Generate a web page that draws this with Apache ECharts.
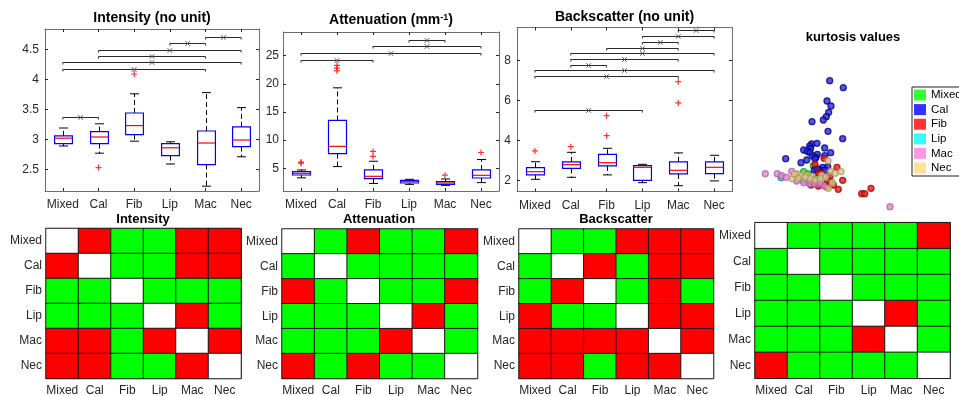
<!DOCTYPE html>
<html>
<head>
<meta charset="utf-8">
<script src="https://cdn.jsdelivr.net/npm/echarts@6.0.0/dist/echarts.min.js"></script>
<style>
  html, body { margin: 0; padding: 0; background: #fff; }
  #chart { width: 959px; height: 396px; }
</style>
</head>
<body>
<div id="chart"></div>
<script>
var cats = ['Mixed', 'Cal', 'Fib', 'Lip', 'Mac', 'Nec'];

// box stats per class: [lower whisker, Q1, median, Q3, upper whisker]
var intensityBox = [
  [2.89, 2.93, 3.02, 3.06, 3.19],
  [2.77, 2.93, 3.04, 3.13, 3.26],
  [2.97, 3.08, 3.23, 3.44, 3.76],
  [2.59, 2.73, 2.86, 2.93, 2.96],
  [2.22, 2.58, 2.94, 3.14, 3.78],
  [2.71, 2.88, 2.99, 3.21, 3.53]
];
var intensityOutliers = [[1, 2.53], [2, 4.09]];
// significant pairs: [class a, class b, bracket height]
var intensitySig = [[0, 1, 3.37], [0, 4, 4.18], [0, 5, 4.29], [1, 4, 4.39], [1, 5, 4.49], [3, 4, 4.6], [4, 5, 4.7]];
var intensityTicks = [2.5, 3, 3.5, 4, 4.5];

var attenBox = [
  [3.3, 3.8, 4.1, 4.4, 4.7],
  [5.3, 7.6, 8.9, 13.5, 19.3],
  [2.3, 3.16, 3.57, 4.7, 6.25],
  [2.14, 2.38, 2.62, 2.86, 3.04],
  [1.96, 2.14, 2.38, 2.62, 3.1],
  [2.45, 3.27, 3.75, 4.7, 6.55]
];
var attenOutliers = [[0, 6.1], [0, 5.9], [1, 23.3], [1, 22.8], [1, 22.3], [2, 8.0], [2, 7.1], [4, 3.77], [5, 7.8]];
var attenSig = [[0, 2, 24.3], [0, 5, 25.5], [2, 5, 26.7], [3, 4, 27.8]];
var attenTicks = [5, 10, 15, 20, 25];

var backBox = [
  [2.05, 2.27, 2.43, 2.63, 2.93],
  [2.15, 2.6, 2.78, 2.92, 3.4],
  [2.27, 2.72, 2.88, 3.3, 3.6],
  [1.88, 2.0, 2.65, 2.73, 2.8],
  [1.73, 2.32, 2.5, 2.92, 3.37],
  [1.97, 2.33, 2.65, 2.92, 3.25]
];
var backOutliers = [[0, 3.47], [1, 3.68], [2, 5.23], [2, 4.23], [4, 6.93], [4, 5.87]];
var backSig = [[0, 3, 5.52], [0, 4, 7.2], [0, 5, 7.5], [1, 2, 7.78], [1, 4, 8.07], [1, 5, 8.35], [2, 4, 8.63], [3, 4, 8.92], [3, 5, 9.2], [4, 5, 9.5]];
var backTicks = [2, 4, 6, 8];

var kurtSig = [[0, 5], [3, 4]];

// kurtosis scatter, projected view (arbitrary units)
var kurtMixed = [[5.83, 4.93], [4.87, 4.33], [6.23, 3.77], [7.6, 3.33], [5.33, 4.1]];
var kurtCal = [[7.47, 13.43], [8.83, 12.73], [7.2, 11.4], [7.6, 10.9], [7.37, 10.27], [7.13, 9.83], [6.83, 9.5],
  [5.7, 9.33], [7.3, 8.37], [8.77, 7.63], [5.67, 7.1], [6.2, 7.17], [5.47, 6.9], [5.57, 6.67], [4.87, 6.5],
  [5.23, 6.37], [6.97, 6.7], [5.5, 6.23], [7.57, 6.23], [6.23, 6.07], [5.77, 5.9], [6.97, 5.93], [6.1, 5.77],
  [6.0, 5.63], [5.17, 5.5], [3.07, 5.63], [4.6, 5.23], [7.27, 4.83], [6.77, 4.77], [5.93, 4.5], [6.43, 4.57],
  [7.0, 4.5], [6.2, 4.6]];
var kurtFib = [[6.9, 5.67], [8.2, 4.77], [8.77, 3.47], [8.33, 2.57], [11.6, 2.67], [10.67, 2.13], [10.97, 2.13],
  [6.0, 5.07], [6.37, 4.23], [7.27, 3.5], [7.83, 3.0], [7.0, 3.0], [5.6, 3.0], [6.33, 2.9], [7.13, 2.83],
  [6.67, 4.17], [5.83, 3.23], [7.5, 3.9]];
var kurtLip = [[2.6, 3.73], [4.83, 3.43], [5.07, 3.63], [5.93, 3.5]];
var kurtMac = [[1.03, 4.13], [2.23, 4.13], [2.67, 3.93], [3.13, 3.77], [3.67, 4.37], [4.17, 3.4], [4.87, 3.23],
  [5.47, 3.1], [5.97, 3.1], [6.9, 2.93], [13.5, 0.83], [6.5, 3.17]];
var kurtNec = [[7.3, 5.43], [8.6, 4.33], [7.57, 4.37], [7.33, 2.67], [3.73, 3.63], [4.23, 4.1], [4.67, 3.97],
  [5.17, 3.97], [5.67, 3.83], [6.0, 3.5], [6.67, 3.97], [5.5, 3.63], [4.33, 3.67], [5.0, 3.77], [3.93, 4.1],
  [6.53, 3.63], [7.07, 3.77], [7.73, 3.23], [8.0, 4.17]];

var font = "'Liberation Sans', Arial, Helvetica, sans-serif";
var ink = '#262626';
var frame = '#6e6e6e';
var plus = 'path://M4,0H6V4H10V6H6V10H4V6H0V4H4Z';

var grids = [], xAxes = [], yAxes = [], series = [], titles = [];

function addTitle(text, x, y, size, rich) {
  titles.push({
    text: text, left: x, top: y, textAlign: 'center', textVerticalAlign: 'middle', padding: 0,
    textStyle: { fontFamily: font, fontSize: size, fontWeight: 'bold', color: '#000', rich: rich }
  });
}

function catAxis(gi, pos, inverse, label, margin) {
  return {
    type: 'category', gridIndex: gi, position: pos, data: cats, inverse: inverse,
    axisLine: { show: true, onZero: false, lineStyle: { color: frame, width: 1 } },
    axisTick: { show: true, inside: true, alignWithLabel: true, interval: 0, length: 3, lineStyle: { color: ink } },
    axisLabel: { show: label, interval: 0, margin: margin, color: ink, fontSize: 12, fontFamily: font },
    splitLine: { show: false }, splitArea: { show: false }
  };
}

function valAxis(gi, pos, min, max, ticks, label, margin) {
  return {
    type: 'value', gridIndex: gi, position: pos, min: min, max: max,
    axisLine: { show: true, onZero: false, lineStyle: { color: frame, width: 1 } },
    axisTick: { show: true, inside: true, length: 3, customValues: ticks, lineStyle: { color: ink } },
    axisLabel: { show: label, margin: margin, color: ink, fontSize: 12, fontFamily: font, customValues: ticks },
    splitLine: { show: false }
  };
}

function renderBox(params, api) {
  var i = api.value(0);
  var band = api.size([1, 0])[0];
  var half = band * 0.25, cap = band * 0.125;
  var lo = api.coord([i, api.value(1)]), q1 = api.coord([i, api.value(2)]);
  var md = api.coord([i, api.value(3)]), q3 = api.coord([i, api.value(4)]);
  var hi = api.coord([i, api.value(5)]);
  var cx = Math.round(lo[0]) + 0.5;
  var dash = { stroke: '#000', lineWidth: 1, lineDash: [5, 3] };
  var solid = { stroke: '#000', lineWidth: 1 };
  return { type: 'group', children: [
    { type: 'line', shape: { x1: cx, y1: q3[1], x2: cx, y2: hi[1] }, style: dash },
    { type: 'line', shape: { x1: cx, y1: q1[1], x2: cx, y2: lo[1] }, style: dash },
    { type: 'line', shape: { x1: cx - cap, y1: hi[1], x2: cx + cap, y2: hi[1] }, style: solid },
    { type: 'line', shape: { x1: cx - cap, y1: lo[1], x2: cx + cap, y2: lo[1] }, style: solid },
    { type: 'rect', shape: { x: cx - half, y: q3[1], width: 2 * half, height: q1[1] - q3[1] },
      style: { fill: 'none', stroke: '#0000ff', lineWidth: 1.2 } },
    { type: 'line', shape: { x1: cx - half, y1: md[1], x2: cx + half, y2: md[1] },
      style: { stroke: '#ff0000', lineWidth: 1.2 } }
  ] };
}

function renderSig(params, api) {
  var a = api.coord([api.value(0), api.value(2)]);
  var b = api.coord([api.value(1), api.value(2)]);
  var y = Math.round(a[1]) + 0.5, mx = (a[0] + b[0]) / 2, m = 2.3;
  return { type: 'group', children: [
    { type: 'polyline', shape: { points: [[a[0], y + 2], [a[0], y], [b[0], y], [b[0], y + 2]] },
      style: { stroke: '#2a2a2a', lineWidth: 1, fill: null } },
    { type: 'line', shape: { x1: mx - m, y1: y - m, x2: mx + m, y2: y + m }, style: { stroke: '#555', lineWidth: 1 } },
    { type: 'line', shape: { x1: mx - m, y1: y + m, x2: mx + m, y2: y - m }, style: { stroke: '#555', lineWidth: 1 } }
  ] };
}

function boxPanel(rect, min, max, ticks, margin, box, outliers, sig) {
  var gi = grids.push(Object.assign({ outerBoundsMode: 'none', show: false }, rect)) - 1;
  var xi = xAxes.push(catAxis(gi, 'bottom', false, true, 8)) - 1;
  xAxes.push(catAxis(gi, 'top', false, false, 0));
  var yi = yAxes.push(valAxis(gi, 'left', min, max, ticks, true, margin)) - 1;
  yAxes.push(valAxis(gi, 'right', min, max, ticks, false, 0));
  series.push({
    type: 'custom', xAxisIndex: xi, yAxisIndex: yi, renderItem: renderBox, silent: true, z: 3,
    encode: { x: 0, y: [1, 2, 3, 4, 5] },
    data: box.map(function (b, i) { return [i].concat(b); })
  });
  series.push({
    type: 'scatter', xAxisIndex: xi, yAxisIndex: yi, data: outliers, symbol: plus, symbolSize: 6,
    itemStyle: { color: '#ff0000' }, silent: true, z: 4
  });
  series.push({
    type: 'custom', xAxisIndex: xi, yAxisIndex: yi, renderItem: renderSig, silent: true, z: 3,
    encode: { x: [0, 1], y: 2 }, data: sig
  });
}

var heatSeries = [];
function heatPanel(rect, pairs) {
  var gi = grids.push(Object.assign({ outerBoundsMode: 'none', show: false }, rect)) - 1;
  var xi = xAxes.push(catAxis(gi, 'bottom', false, true, 6)) - 1;
  xAxes.push(catAxis(gi, 'top', false, false, 0));
  var yi = yAxes.push(catAxis(gi, 'left', true, true, 4)) - 1;
  yAxes.push(catAxis(gi, 'right', true, false, 0));
  var data = [];
  cats.forEach(function (r, ri) {
    cats.forEach(function (c, ci) {
      var v = 1;
      if (ri === ci) v = 0;
      pairs.forEach(function (p) {
        if ((p[0] === ri && p[1] === ci) || (p[0] === ci && p[1] === ri)) v = 2;
      });
      data.push([ci, ri, v]);
    });
  });
  heatSeries.push(series.length);
  series.push({
    type: 'heatmap', xAxisIndex: xi, yAxisIndex: yi, data: data, silent: true,
    itemStyle: { borderColor: '#1a1a1a', borderWidth: 1 }, emphasis: { disabled: true }
  });
}

// top row: box plots
boxPanel({ left: 45, top: 29, width: 214, height: 162 }, 2.14, 4.84, intensityTicks, 6,
  intensityBox, intensityOutliers, intensitySig);
boxPanel({ left: 283, top: 32, width: 216, height: 159 }, 0.96, 29.22, attenTicks, 4,
  attenBox, attenOutliers, attenSig);
boxPanel({ left: 517, top: 27.5, width: 215, height: 164 }, 1.44, 9.64, backTicks, 6,
  backBox, backOutliers, backSig);

addTitle('Intensity (no unit)', 152, 18.5, 14);
addTitle('{t|Attenuation (mm}{s|-1}{t|)}', 391, 20.5, 14, {
  t: { fontFamily: font, fontSize: 14, fontWeight: 'bold', color: '#000' },
  s: { fontFamily: font, fontSize: 9, fontWeight: 'bold', color: '#000', verticalAlign: 'top' }
});
addTitle('Backscatter (no unit)', 624.5, 17, 14);
addTitle('kurtosis values', 853, 37, 13);

// kurtosis scatter (axes hidden)
var kg = grids.push({ outerBoundsMode: 'none', left: 755, top: 70, width: 150, height: 145, show: false }) - 1;
var kx = xAxes.push({ type: 'value', gridIndex: kg, min: 0, max: 15, show: false }) - 1;
var ky = yAxes.push({ type: 'value', gridIndex: kg, min: 0, max: 14.5, show: false }) - 1;
var kurtSets = [kurtMixed, kurtCal, kurtFib, kurtLip, kurtMac, kurtNec];
var kurtFill = ['#22e822', '#2a2ad8', '#e81c1c', '#22d8d8', '#e48ad6', '#dcc48e'];
var kurtEdge = ['#0a9a0a', '#00008c', '#a00000', '#0a9090', '#b060a4', '#b09860'];
var legendColors = ['#00ff00', '#0000ff', '#ff0000', '#00ffff', '#ff80e0', '#ffd980'];
kurtSets.forEach(function (set, i) {
  series.push({
    type: 'scatter', name: cats[i], xAxisIndex: kx, yAxisIndex: ky, data: set, symbolSize: 6, silent: true,
    itemStyle: { color: kurtFill[i], borderColor: kurtEdge[i], borderWidth: 1.3 }, z: 5
  });
});

// bottom row: significance matrices
heatPanel({ left: 46, top: 228.5, width: 195, height: 150 }, intensitySig);
heatPanel({ left: 282, top: 229, width: 195.5, height: 149.5 }, attenSig);
heatPanel({ left: 519, top: 229, width: 194.5, height: 149.5 }, backSig);
heatPanel({ left: 755, top: 222.7, width: 195, height: 155.6 }, kurtSig);

addTitle('Intensity', 143, 219.5, 13);
addTitle('Attenuation', 379, 219.5, 13);
addTitle('Backscatter', 616, 219.5, 13);

var chart = echarts.init(document.getElementById('chart'));
chart.setOption({
  animation: false,
  backgroundColor: '#fff',
  title: titles,
  grid: grids,
  xAxis: xAxes,
  yAxis: yAxes,
  legend: {
    orient: 'vertical', left: 912, top: 87, padding: [2, 3, 2, 2],
    itemWidth: 12, itemHeight: 11, itemGap: 2.6, icon: 'rect',
    borderColor: '#222', borderWidth: 1, backgroundColor: '#fff', selectedMode: false,
    textStyle: { fontFamily: font, fontSize: 11.5, color: '#000' },
    data: cats.map(function (c, i) {
      return { name: c, itemStyle: { color: legendColors[i], borderWidth: 0 } };
    })
  },
  visualMap: {
    type: 'piecewise', show: false, seriesIndex: heatSeries, dimension: 2,
    pieces: [
      { value: 0, color: '#ffffff' },
      { value: 1, color: '#00ff00' },
      { value: 2, color: '#ff0000' }
    ]
  },
  series: series
});
</script>
</body>
</html>
